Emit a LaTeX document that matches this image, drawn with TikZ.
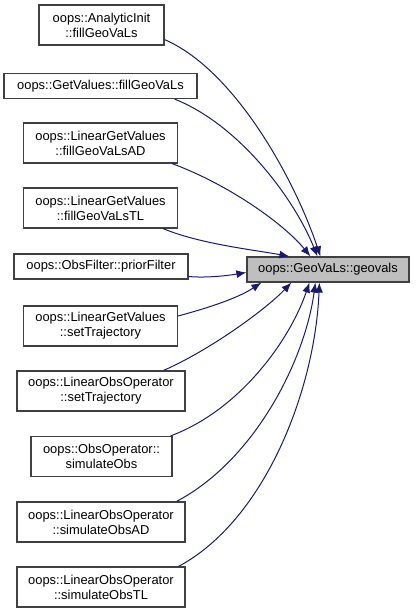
\documentclass[tikz,border=0pt]{standalone}
\usepackage{fontspec}
\setmainfont{Liberation Sans}
\usetikzlibrary{arrows.meta}
\definecolor{edgeblue}{HTML}{191970}
\definecolor{boxline}{HTML}{404040}
\definecolor{boxgray}{HTML}{BFBFBF}
\tikzset{
  fn/.style={draw=boxline, line width=1.2pt, fill=white, inner sep=0pt, align=center,
    font=\fontsize{12.9}{15}\selectfont, minimum height=40pt},
  fnone/.style={fn, minimum height=25pt},
  cur/.style={fnone, fill=boxgray},
  call/.style={draw=edgeblue, line width=1pt, -{Latex[length=10pt,width=8pt]}}
}
\begin{document}
\begin{tikzpicture}[x=1pt,y=-1pt]
\useasboundingbox (0,0) rectangle (415,613);
\node[fn, minimum width=125pt] (n1) at (101.5,25) {oops::AnalyticInit\\::fillGeoVaLs};
\node[fnone, minimum width=193pt] (n2) at (100.5,86) {oops::GetValues::fillGeoVaLs};
\node[fn, minimum width=154pt] (n3) at (100.5,143) {oops::LinearGetValues\\::fillGeoVaLsAD};
\node[fn, minimum width=154pt] (n4) at (100.5,208) {oops::LinearGetValues\\::fillGeoVaLsTL};
\node[fnone, minimum width=174pt] (n5) at (101,266.5) {oops::ObsFilter::priorFilter};
\node[fn, minimum width=154pt] (n6) at (100.5,326) {oops::LinearGetValues\\::setTrajectory};
\node[fn, minimum width=168pt] (n7) at (101,391) {oops::LinearObsOperator\\::setTrajectory};
\node[fn, minimum width=141pt] (n8) at (101.5,456.5) {oops::ObsOperator::\\simulateObs};
\node[fn, minimum width=168pt] (n9) at (101,522) {oops::LinearObsOperator\\::simulateObsAD};
\node[fn, minimum width=168pt] (n10) at (101,587) {oops::LinearObsOperator\\::simulateObsTL};
\node[cur, minimum width=162pt] (g) at (328,269.5) {oops::GeoVaLs::geovals};

\draw[call] ([yshift=6pt]n1.south east) .. controls (235,70) and (295,180) .. ([xshift=74pt]g.north west);
\draw[call] ([xshift=-23pt]n2.south east) .. controls (240,125) and (295,200) .. ([xshift=71pt]g.north west);
\draw[call] ([xshift=-6pt]n3.south east) .. controls (230,185) and (285,225) .. ([xshift=64pt]g.north west);
\draw[call] ([xshift=-15pt]n4.south east) .. controls (200,244) and (255,250) .. ([xshift=43pt]g.north west);
\draw[call] ([yshift=-10pt]n5.east) .. controls (205,278) and (225,276) .. ([yshift=-3pt]g.west);
\draw[call] ([yshift=10pt]n6.east) .. controls (200,310) and (235,300) .. ([xshift=15pt]g.south west);
\draw[call] ([xshift=-22pt]n7.north east) .. controls (210,350) and (265,310) .. ([xshift=45pt]g.south west);
\draw[call] ([xshift=-2pt]n8.north east) .. controls (240,410) and (290,340) .. ([xshift=63pt]g.south west);
\draw[call] ([xshift=-9pt]n9.north east) .. controls (255,460) and (305,360) .. ([xshift=69pt]g.south west);
\draw[call] ([xshift=-7pt]n10.north east) .. controls (265,520) and (315,390) .. ([xshift=73pt]g.south west);
\end{tikzpicture}
\end{document}
